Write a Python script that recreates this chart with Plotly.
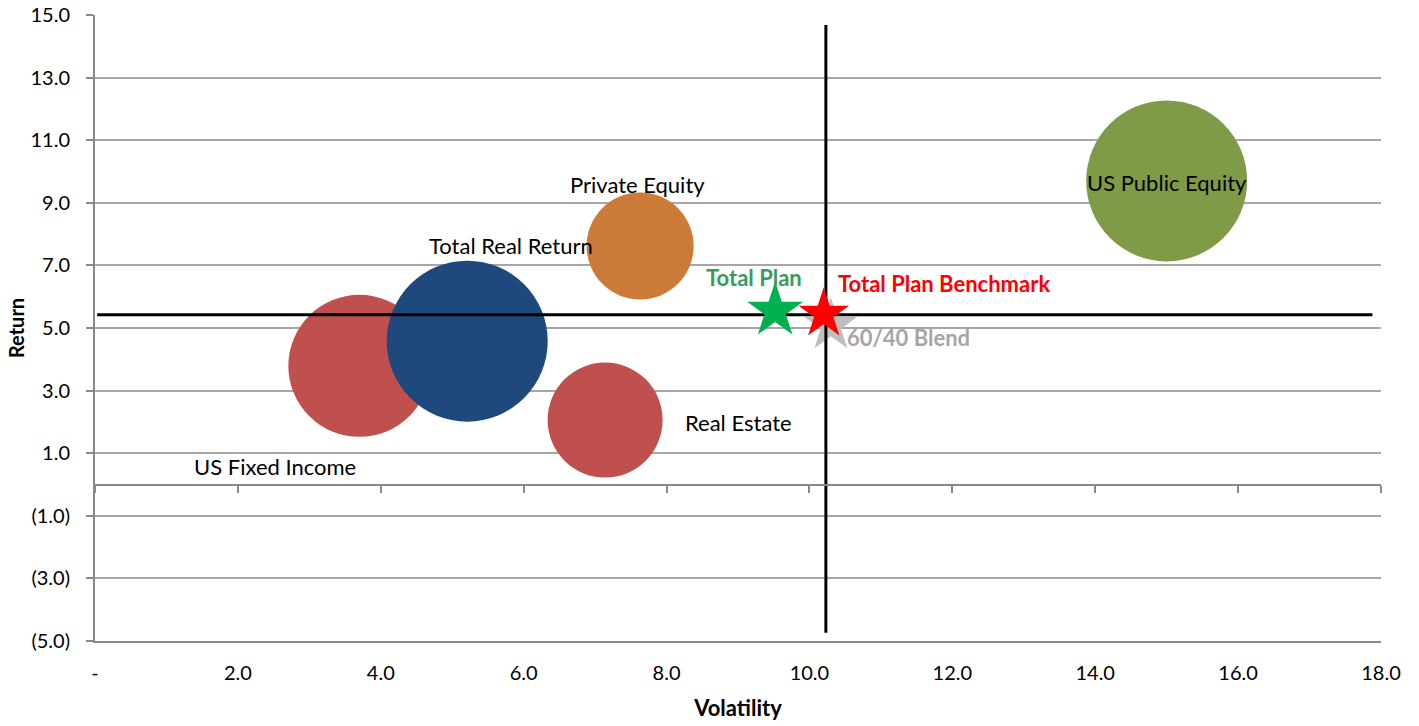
import plotly.graph_objects as go

# ---- data ----
asset_names = ["US Fixed Income", "Total Real Return", "Real Estate", "Private Equity", "US Public Equity"]
asset_vol = [3.70, 5.21, 7.14, 7.63, 15.00]
asset_ret = [3.79, 4.58, 2.06, 7.62, 9.70]
asset_size = [77.8, 100.0, 51.0, 44.2, 100.0]   # relative bubble area
asset_colors = ["#C0504D", "#1F497D", "#C0504D", "#CC7A37", "#7F9B48"]

star_names = ["60/40 Blend", "Total Plan", "Total Plan Benchmark"]
star_vol = [10.30, 9.52, 10.20]
star_ret = [5.08, 5.55, 5.45]
star_colors = ["#BFBFBF", "#00B050", "#FF0000"]
star_label_colors = ["#A6A6A6", "#3B9B5C", "#FF0000"]

bench_ret = 5.42
bench_vol = 10.23
hline_x = [0.03, 17.88]
vline_y = [14.68, -4.74]

x_ticks = [0, 2, 4, 6, 8, 10, 12, 14, 16, 18]
x_ticktext = ["-", "2.0", "4.0", "6.0", "8.0", "10.0", "12.0", "14.0", "16.0", "18.0"]
y_ticks = [-5, -3, -1, 1, 3, 5, 7, 9, 11, 13, 15]
y_ticktext = ["(5.0)", "(3.0)", "(1.0)", "1.0", "3.0", "5.0", "7.0", "9.0", "11.0", "13.0", "15.0"]

FONT = "Lato"
AX = "#898989"
MAX_DIAM = 161

diam = [MAX_DIAM * (s / max(asset_size)) ** 0.5 for s in asset_size]

fig = go.Figure()

fig.add_trace(go.Scatter(
    x=asset_vol, y=asset_ret, mode="markers", text=asset_names,
    marker=dict(size=diam, color=asset_colors, line=dict(width=0), opacity=1),
    hoverinfo="text", showlegend=False))

# gray star below lines
fig.add_trace(go.Scatter(
    x=[star_vol[0]], y=[star_ret[0]], mode="markers",
    marker=dict(symbol="star", size=40, color=star_colors[0], line=dict(width=0)),
    showlegend=False, hoverinfo="skip"))

fig.add_trace(go.Scatter(
    x=hline_x, y=[bench_ret, bench_ret], mode="lines",
    line=dict(color="black", width=3), showlegend=False, hoverinfo="skip"))
fig.add_trace(go.Scatter(
    x=[bench_vol, bench_vol], y=vline_y, mode="lines",
    line=dict(color="black", width=3), showlegend=False, hoverinfo="skip"))

for i in (1, 2):
    fig.add_trace(go.Scatter(
        x=[star_vol[i]], y=[star_ret[i]], mode="markers",
        marker=dict(symbol="star", size=42 if i == 1 else 38, color=star_colors[i], line=dict(width=0)),
        showlegend=False, hoverinfo="skip"))

# invisible trace to carry the zero-line axis
fig.add_trace(go.Scatter(x=[0], y=[0], xaxis="x2", mode="markers",
                         marker=dict(opacity=0), showlegend=False, hoverinfo="skip"))

label_font = dict(family=FONT, size=22, color="black")
annots = [
    dict(x=2.52, y=0.59, text=asset_names[0]),
    dict(x=5.82, y=7.62, text=asset_names[1]),
    dict(x=9.00, y=1.97, text=asset_names[2]),
    dict(x=7.60, y=9.57, text=asset_names[3]),
    dict(x=15.0, y=9.66, text=asset_names[4]),
]
for a in annots:
    fig.add_annotation(xref="x", yref="y", showarrow=False, font=label_font,
                       xanchor="center", yanchor="middle", **a)

star_lab = [(11.38, 4.71), (9.23, 6.60), (11.88, 6.41)]
for i, (lx, ly) in enumerate(star_lab):
    fig.add_annotation(xref="x", yref="y", x=lx, y=ly, showarrow=False,
                       text="<b>%s</b>" % star_names[i],
                       font=dict(family=FONT, size=22, color=star_label_colors[i]),
                       xanchor="center", yanchor="middle")

fig.update_layout(
    width=1419, height=726,
    margin=dict(l=95, r=38, t=15, b=85, autoexpand=False),
    paper_bgcolor="white", plot_bgcolor="white",
    font=dict(family=FONT, size=20, color="black"),
    xaxis=dict(range=[0, 18], tickvals=x_ticks, ticktext=x_ticktext, automargin=False,
               showgrid=False, zeroline=False, showline=True, linecolor=AX, linewidth=2,
               ticks="", ticklabelstandoff=13,
               tickfont=dict(family=FONT, size=20, color="black"),
               title=dict(text="<b>Volatility</b>", font=dict(family=FONT, size=22), standoff=18)),
    xaxis2=dict(range=[0, 18], overlaying="x", anchor="free", position=0.25, side="bottom",
                automargin=False,
                tickvals=x_ticks, showticklabels=False, showgrid=False, zeroline=False,
                showline=True, linecolor=AX, linewidth=2, ticks="outside", ticklen=7,
                tickcolor=AX, tickwidth=2),
    yaxis=dict(range=[-5, 15], tickvals=y_ticks, ticktext=y_ticktext, automargin=False,
               showgrid=True, gridcolor="#A6A6A6", gridwidth=1.5, zeroline=False,
               showline=True, linecolor=AX, linewidth=2, ticks="outside", ticklen=7,
               tickcolor=AX, tickwidth=2, ticklabelstandoff=12,
               tickfont=dict(family=FONT, size=20, color="black"),
               title=dict(text="<b>Return</b>", font=dict(family=FONT, size=20), standoff=0)),
)

fig.write_html("out.html")
